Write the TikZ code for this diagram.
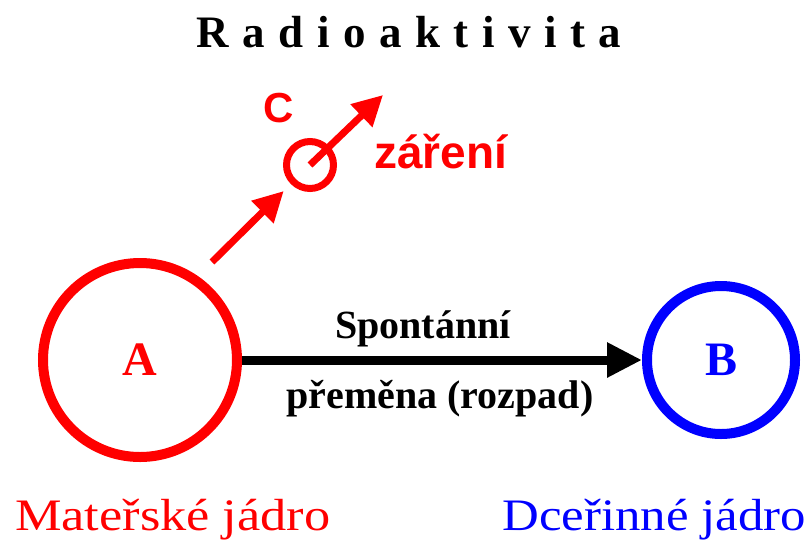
\documentclass[tikz,border=0pt]{standalone}
\usepackage{fontspec}
\setmainfont{Liberation Serif}
\newfontfamily\labsans{Liberation Sans}
\usetikzlibrary{arrows.meta}
\tikzset{
  nucleus/.style={circle, draw=#1, text=#1, line width=10pt, inner sep=0pt,
    font=\fontsize{48}{48}\selectfont\bfseries},
  plain/.style={inner sep=0pt, outer sep=0pt},
  redarrow/.style={draw=red, line width=7pt,
    -{Triangle[length=30pt,width=30pt]}},
  mainarrow/.style={draw=black, line width=9pt,
    -{Triangle[length=35pt,width=33pt]}},
  caption/.style={plain, anchor=base, font=\fontsize{40}{40}\selectfont\bfseries},
  bottomlab/.style={plain, xscale=1.13,
    font=\fontsize{45}{45}\selectfont}
}
\begin{document}
\begin{tikzpicture}[x=1pt,y=-1pt]
\useasboundingbox (0,0) rectangle (811,542);
% title
\node[plain, anchor=base, font=\fontsize{45}{45}\selectfont\bfseries\addfontfeature{LetterSpace=30}]
  (title) at (409,47) {Radioaktivita};
% nuclei
\node[nucleus=red, minimum size=194pt] (A) at (140,360) {A};
\node[nucleus=blue, minimum size=148pt] (B) at (721,360) {B};
% emitted particle
\node[circle, draw=red, line width=7pt, minimum size=47pt, inner sep=0pt] (C) at (310,165) {};
\coordinate (s1) at (212,262);
\coordinate (t2) at (383,95);
\draw[redarrow, shorten >=10pt] (s1) -- (C);
\draw[redarrow] (C.center) -- (t2);
\node[plain, anchor=base, text=red, font=\labsans\fontsize{42}{42}\selectfont\bfseries] (clab) at (279,122) {C};
\node[plain, anchor=base west, text=red, font=\labsans\fontsize{46}{46}\selectfont\bfseries] (zar) at (374,168) {záření};
% decay arrow
\draw[mainarrow] (A) -- (B);
\node[caption] (sp) at (423,338) {Spontánní};
\node[caption] (pr) at (440,408) {přeměna (rozpad)};
% bottom labels
\node[bottomlab, anchor=base west, text=red, xscale=1.03] (mat) at (15,530) {Mateřské jádro};
\node[bottomlab, anchor=base east, text=blue] (dce) at (806,530) {Dceřinné jádro};
\end{tikzpicture}
\end{document}
